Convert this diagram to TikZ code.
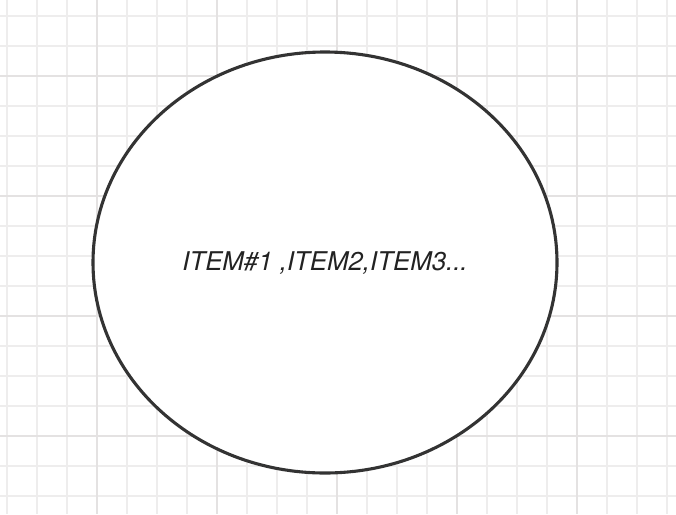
\documentclass[tikz,border=0pt]{standalone}
\usepackage{fontspec}
\setmainfont{TeX Gyre Heros}
\usepackage{tikz}
\usetikzlibrary{shapes.geometric}
\definecolor{gminor}{HTML}{EEEDED}
\definecolor{gmajor}{HTML}{E4E2E2}
\definecolor{edark}{HTML}{333333}
\definecolor{etext}{HTML}{222222}
\begin{document}
\begin{tikzpicture}[x=1pt, y=-1pt,
   minorline/.style={draw=gminor, line width=1.6pt},
   majorline/.style={draw=gmajor, line width=1.8pt},
   itembubble/.style={ellipse, draw=edark, line width=3.1pt, fill=white,
                      minimum width=464pt, minimum height=421pt, inner sep=0pt,
                      font=\fontsize{25.8}{30}\selectfont\itshape, text=etext}]
  \useasboundingbox (0,0) rectangle (676,514);
  % grid
  \foreach \x in {7,37,...,667} \draw[minorline] (\x,0) -- (\x,514);
  \foreach \y in {16,46,...,506} \draw[minorline] (0,\y) -- (676,\y);
  \foreach \x in {97,217,...,577} \draw[majorline] (\x,0) -- (\x,514);
  \foreach \y in {76,196,...,436} \draw[majorline] (0,\y) -- (676,\y);
  % bubble
  \node[itembubble] (items) at (325,262.5) {ITEM\#1 ,ITEM2,ITEM3...};
\end{tikzpicture}
\end{document}
